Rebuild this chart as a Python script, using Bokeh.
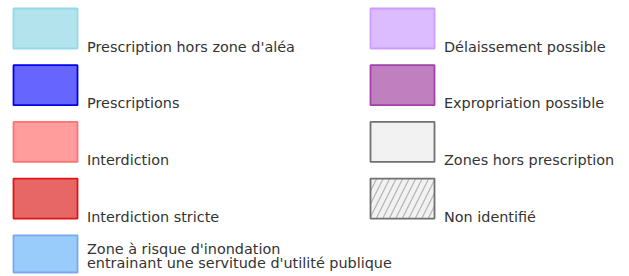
from bokeh.plotting import figure
from bokeh.models import Range1d, ColumnDataSource
from bokeh.core.properties import value
from bokeh.embed import file_html
from bokeh.resources import INLINE

# Legend entries (left column first, then right column)
labels = [
    "Prescription hors zone d'aléa",
    "Prescriptions",
    "Interdiction",
    "Interdiction stricte",
    "Zone à risque d'inondation\nentrainant une servitude d'utilité publique",
    "Délaissement possible",
    "Expropriation possible",
    "Zones hors prescription",
    "Non identifié",
]
fill_colors = ["#b3e4ed", "#6666ff", "#ff9c9c", "#e76767", "#99cbfb",
               "#dcbcff", "#c080c0", "#f2f2f2", "#f2f2f2"]
line_colors = ["#92dae8", "#0000ee", "#ff7272", "#e01414", "#78a8f0",
               "#cc9cff", "#a040a8", "#707070", "#707070"]
hatches = [" ", " ", " ", " ", " ", " ", " ", " ", "/"]

W, H = 629, 276
ROWS = 5
COL_STEP = 357
ROW_STEP = 56.7
BOX_W, BOX_H = 64, 40
X0, Y0 = 13, 8

idx = list(range(len(labels)))
cols = [i // ROWS for i in idx]
rows = [i % ROWS for i in idx]
left = [X0 + c * COL_STEP for c in cols]
top = [Y0 + r * ROW_STEP for r in rows]
right = [l + BOX_W for l in left]
bottom = [t + min(BOX_H, H - 4 - t) for t in top]
tx = [l + BOX_W + 9.5 for l in left]
ty = [t + (21 if "\n" in s else 38) for t, s in zip(top, labels)]

src = ColumnDataSource(dict(left=left, right=right, top=top, bottom=bottom,
                            fill=fill_colors, line=line_colors, hatch=hatches,
                            tx=tx, ty=ty, label=labels))

p = figure(width=W, height=H, x_range=Range1d(0, W), y_range=Range1d(H, 0),
           output_backend="svg", toolbar_location=None, min_border=0)
p.axis.visible = False
p.grid.visible = False
p.outline_line_color = None
p.background_fill_color = "white"
p.border_fill_color = "white"

p.quad(left="left", right="right", top="top", bottom="bottom", source=src,
       fill_color="fill", line_color="line", line_width=1.8,
       hatch_pattern="hatch", hatch_color="#b8b8b8", hatch_scale=13,
       hatch_weight=1.3)

p.text(x="tx", y="ty", text="label", source=src,
       text_font=value("DejaVu Sans"), text_font_size="14.4px",
       text_color="#333333", text_baseline="alphabetic", text_align="left",
       text_line_height=0.875)

open("out.html", "w").write(file_html(p, INLINE))
